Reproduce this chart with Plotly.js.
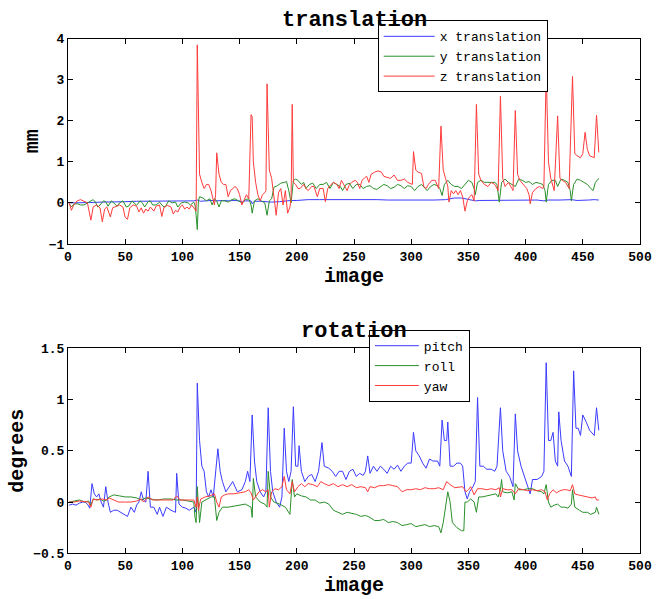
<!DOCTYPE html>
<html>
<head>
<meta charset="utf-8">
<script src="https://cdn.plot.ly/plotly-3.0.1.min.js"></script>
<style>
  html, body { margin: 0; padding: 0; background: #fff; }
  #chart { width: 666px; height: 599px; }
</style>
</head>
<body>
<div id="chart"></div>
<script>
// Head-motion realignment parameters per image (translation in mm, rotation in degrees)

const transXImg = [1,10,20,30,40,50,60,70,80,90,100,110,113,116,120,125,130,135,140,145,150,152,155,160,161,163,168,174,178,185,190,195,200,205,210,220,230,240,250,260,270,280,290,300,310,320,330,334,338,344,348,352,356,360,370,380,390,400,410,416,420,430,440,445,450,455,460,464];
const transX = [0.0,0.0,0.01,0.02,0.02,0.03,0.04,0.04,0.04,0.04,0.05,0.05,0.07,0.04,0.05,0.06,0.05,0.06,0.05,0.06,0.05,0.02,0.05,0.05,-0.02,0.04,0.04,0.03,0.02,0.03,0.05,0.06,0.06,0.07,0.08,0.08,0.08,0.08,0.09,0.08,0.08,0.07,0.07,0.07,0.06,0.07,0.08,0.1,0.12,0.12,0.1,0.07,0.05,0.06,0.06,0.07,0.07,0.06,0.07,0.05,0.07,0.07,0.08,0.06,0.06,0.07,0.08,0.07];

const transYImg = [1,3,5,8,11,14,17,20,22,24,26,28,31,33,35,38,40,43,45,48,51,53,56,58,60,63,65,67,70,72,74,77,80,83,85,88,91,94,96,99,102,105,107,110,111,112,113,114,115,118,121,124,126,128,130,132,134,137,140,143,146,149,152,155,158,160,161,163,166,169,172,174,176,178,180,183,186,189,191,193,195,197,199,201,204,206,208,211,214,217,220,223,226,229,232,235,238,240,243,246,249,252,255,258,261,264,267,270,273,276,279,282,285,288,291,294,297,300,303,306,309,312,314,317,320,323,325,327,329,332,335,338,341,344,347,350,353,355,356,358,361,364,367,370,373,375,377,379,382,385,388,391,394,397,400,403,406,409,412,415,417,418,420,423,426,428,431,434,437,439,440,442,445,448,451,454,457,459,461,464];
const transY = [-0.02,-0.1,-0.03,-0.02,-0.05,-0.05,0.0,0.05,0.08,0.02,-0.1,-0.05,0.05,0.03,-0.08,0.05,0.0,-0.08,0.0,0.05,-0.1,-0.08,0.05,0.0,-0.06,0.05,0.0,-0.1,0.03,0.05,-0.05,-0.05,0.02,-0.08,-0.1,0.05,0.0,0.02,-0.1,0.0,0.02,0.0,-0.05,0.02,-0.05,-0.3,-0.65,0.05,0.15,0.12,0.05,0.1,-0.05,0.1,0.05,-0.1,0.05,0.05,0.02,0.08,0.1,0.05,0.0,0.08,0.1,-0.05,-0.25,0.05,0.1,0.05,0.0,-0.3,0.05,0.1,0.38,0.42,0.48,0.5,0.52,0.3,0.0,0.55,0.58,0.55,0.45,0.5,0.35,0.45,0.48,0.35,0.45,0.45,0.5,0.35,0.5,0.45,0.4,0.3,0.45,0.48,0.35,0.45,0.45,0.35,0.4,0.42,0.35,0.33,0.4,0.45,0.42,0.35,0.38,0.45,0.42,0.35,0.42,0.4,0.3,0.4,0.45,0.35,0.3,0.4,0.45,0.42,0.35,0.18,0.45,0.55,0.45,0.4,0.4,0.35,0.45,0.55,0.5,0.35,0.2,0.5,0.55,0.5,0.5,0.5,0.5,0.45,0.02,0.5,0.58,0.5,0.45,0.4,0.58,0.55,0.5,0.52,0.45,0.5,0.48,0.45,0.3,0.02,0.45,0.55,0.55,0.4,0.58,0.55,0.5,0.3,0.05,0.45,0.58,0.55,0.5,0.45,0.35,0.3,0.5,0.6];

const transZImg = [1,3,5,8,11,14,17,20,22,25,28,30,32,34,37,39,42,45,48,50,52,54,57,60,62,64,66,68,70,72,75,77,80,82,84,87,90,92,94,96,98,100,102,104,106,108,110,112,113,114,115,117,119,121,123,125,127,128,129,130,132,134,136,138,140,142,144,146,148,150,152,154,156,158,160,161,162,164,166,168,170,172,173,174,175,176,178,180,182,184,186,188,190,192,194,195,196,197,199,201,203,206,208,210,213,215,218,220,223,225,227,230,232,235,237,239,241,244,246,248,251,253,255,257,259,261,263,265,268,271,274,276,279,282,285,288,291,294,297,299,301,302,304,306,309,311,313,315,318,321,324,326,328,330,332,333,335,337,339,341,343,345,347,349,351,353,355,357,359,361,364,367,370,373,375,376,378,380,382,385,388,389,391,393,395,398,401,403,404,406,409,412,415,416,418,420,422,424,425,428,430,432,435,438,441,443,445,448,450,452,454,456,459,460,462,464];
const transZ = [0.0,-0.18,-0.05,0.05,0.08,0.04,0.0,-0.42,-0.1,-0.05,-0.12,-0.46,-0.15,-0.1,-0.34,-0.12,-0.08,-0.05,-0.1,-0.35,-0.4,-0.12,-0.05,-0.08,-0.22,-0.12,-0.25,-0.15,-0.2,-0.1,-0.2,-0.08,-0.05,-0.33,-0.1,-0.06,-0.1,-0.27,-0.18,-0.22,-0.1,-0.05,-0.15,-0.1,-0.15,-0.05,-0.12,-0.2,3.85,1.8,0.7,0.5,0.35,0.45,0.45,0.3,0.05,-0.05,0.2,1.22,0.7,0.5,0.45,0.45,0.15,0.3,0.35,0.4,0.35,0.2,-0.05,0.1,0.2,0.1,2.15,2.1,1.0,0.5,0.2,0.05,0.2,0.25,0.3,2.9,1.5,0.8,0.6,0.2,-0.3,0.25,0.35,-0.05,0.3,-0.25,-0.1,0.1,2.4,0.5,0.45,0.35,0.35,0.45,0.35,0.3,0.4,0.4,0.15,0.35,0.35,0.03,0.35,0.45,0.5,0.45,0.35,0.55,0.45,0.3,0.45,0.5,0.55,0.5,0.35,0.55,0.6,0.65,0.5,0.7,0.75,0.78,0.75,0.65,0.62,0.6,0.68,0.55,0.55,0.58,0.5,0.48,0.45,1.25,0.8,0.75,0.72,0.4,0.35,0.45,0.55,0.55,0.35,1.87,0.8,0.6,0.4,0.02,0.3,0.22,0.3,0.2,0.3,0.15,-0.2,0.05,0.15,0.2,0.05,2.4,0.7,0.55,0.45,0.4,0.5,0.45,0.35,0.3,2.6,0.6,0.4,0.5,0.35,0.3,2.25,0.7,0.55,0.45,0.35,0.2,-0.02,0.25,0.35,0.4,0.35,0.4,3.2,1.0,0.6,0.4,0.3,2.12,0.6,0.55,0.5,0.35,3.08,1.2,1.15,1.1,1.2,1.72,1.3,1.15,1.1,1.1,2.14,1.23];

const pitchImg = [1,4,7,10,13,15,17,19,21,23,25,27,29,31,33,35,37,40,43,46,50,52,55,58,60,62,64,66,68,70,72,75,78,80,83,86,90,94,95,97,100,103,106,110,112,113,115,117,119,121,123,125,127,129,131,133,135,138,141,144,148,152,155,157,159,161,163,165,168,171,173,175,177,179,182,185,187,189,191,193,195,197,199,201,202,204,207,210,213,216,219,222,224,228,231,234,237,240,243,246,249,252,255,258,260,262,264,267,270,273,276,279,282,285,288,291,294,297,300,302,304,307,310,313,316,319,323,325,327,329,331,332,334,337,340,343,345,347,349,351,354,356,358,360,363,366,370,373,375,378,380,383,386,389,391,393,396,399,402,404,406,410,414,416,418,420,422,424,426,428,429,431,434,437,440,442,444,446,448,450,453,456,460,462,464];
const pitch = [-0.03,-0.02,-0.03,-0.01,0.0,0.0,-0.02,-0.06,0.18,0.08,0.05,0.08,0.0,-0.05,0.15,0.0,-0.1,-0.08,-0.08,-0.1,-0.12,-0.14,-0.05,-0.1,-0.03,0.0,0.1,0.02,0.0,0.3,-0.05,-0.05,-0.12,-0.05,-0.14,-0.05,-0.08,-0.1,0.28,-0.02,-0.05,-0.06,-0.08,-0.05,-0.1,1.16,0.6,0.35,0.3,0.1,0.05,0.12,0.05,0.3,0.52,0.3,0.2,0.1,0.15,0.2,0.1,0.12,0.2,0.3,0.2,0.85,0.4,0.2,0.1,0.05,0.1,0.92,0.3,0.1,0.0,-0.05,0.05,0.72,0.3,0.2,0.3,0.93,0.35,0.35,0.55,0.3,0.2,0.25,0.27,0.2,0.3,0.58,0.35,0.33,0.3,0.25,0.3,0.3,0.22,0.3,0.32,0.25,0.28,0.26,0.3,0.45,0.28,0.35,0.3,0.35,0.32,0.28,0.35,0.32,0.36,0.3,0.35,0.38,0.38,0.68,0.5,0.45,0.38,0.33,0.42,0.4,0.4,0.35,0.8,0.6,0.6,0.78,0.35,0.35,0.38,0.38,0.35,0.1,0.03,0.1,0.15,0.2,1.02,0.35,0.35,0.32,0.32,0.3,0.35,0.92,0.5,0.3,0.25,0.15,0.86,0.5,0.35,0.25,0.15,0.08,0.22,0.22,0.25,0.3,1.36,0.6,0.6,0.68,0.4,0.35,0.88,0.6,0.4,0.35,0.25,1.28,0.72,0.72,0.65,0.85,0.78,0.7,0.65,0.92,0.7];

const rollImg = [1,5,10,15,18,20,22,25,28,31,34,36,40,45,50,55,60,64,68,72,78,84,90,95,100,105,110,111,112,113,114,115,117,120,125,128,130,132,135,140,145,150,155,160,161,162,164,168,172,174,175,177,180,185,190,194,196,198,200,204,208,212,216,220,224,228,232,236,240,244,248,252,256,260,264,268,272,276,280,284,288,292,296,300,304,308,312,316,320,324,326,328,330,332,334,336,340,344,346,347,349,352,355,357,359,362,366,370,374,376,378,379,380,384,388,390,391,394,398,402,406,410,414,416,418,420,422,425,428,431,434,437,440,441,443,447,450,454,457,461,462,464];
const roll = [0.0,0.01,0.02,0.0,0.01,-0.03,0.03,0.02,0.03,0.01,0.02,0.05,0.07,0.06,0.05,0.05,0.04,0.02,0.04,0.03,0.02,0.03,0.03,0.02,0.02,0.01,0.0,-0.15,-0.2,0.15,-0.05,-0.2,0.0,0.02,0.05,0.05,-0.18,-0.1,-0.05,-0.05,-0.04,-0.03,-0.02,-0.05,-0.15,0.23,0.05,0.0,-0.02,-0.05,0.3,0.05,0.0,-0.02,-0.05,-0.12,0.22,0.05,0.08,0.06,0.05,0.02,0.02,-0.01,0.0,-0.02,-0.08,-0.1,-0.12,-0.1,-0.11,-0.12,-0.14,-0.13,-0.15,-0.18,-0.18,-0.17,-0.2,-0.19,-0.2,-0.23,-0.22,-0.21,-0.24,-0.23,-0.22,-0.24,-0.23,-0.24,-0.3,-0.2,-0.05,0.1,0.0,-0.2,-0.25,-0.28,-0.28,0.0,0.0,0.03,0.0,-0.1,0.05,0.05,0.06,0.07,0.08,0.05,0.12,0.22,0.1,0.09,0.1,0.02,0.18,0.12,0.12,0.13,0.13,0.11,0.1,0.08,0.17,0.0,-0.05,-0.03,-0.02,-0.05,-0.05,-0.06,-0.02,0.12,-0.05,-0.08,-0.1,-0.1,-0.12,-0.1,-0.05,-0.12];

const yawImg = [1,5,10,15,18,20,22,26,30,34,36,40,44,50,55,60,64,66,70,74,80,86,92,95,98,104,110,112,113,114,116,120,124,128,130,132,134,137,140,145,150,155,158,160,162,164,167,170,173,175,176,178,181,184,187,189,191,194,196,198,201,204,207,210,214,218,221,224,228,232,236,240,244,248,252,256,260,262,264,268,272,276,280,284,288,292,296,300,304,308,312,316,320,324,328,331,334,338,342,345,348,350,352,355,358,362,366,370,374,377,378,380,384,388,391,394,398,402,406,410,414,417,419,421,424,427,430,433,436,439,441,443,446,450,454,458,461,462,464];
const yaw = [0.0,0.0,0.01,0.0,0.0,-0.05,0.03,0.02,0.03,0.02,0.04,0.02,0.0,0.0,0.0,0.01,0.03,0.0,0.05,0.02,0.02,0.02,0.02,0.06,0.02,0.02,0.02,-0.05,0.05,-0.08,0.03,0.05,0.06,0.08,0.0,-0.05,0.05,0.07,0.08,0.08,0.09,0.1,0.12,0.09,0.02,0.05,0.1,0.12,0.1,0.12,-0.05,0.1,0.13,0.12,0.15,0.25,0.12,0.08,0.2,0.1,0.15,0.18,0.15,0.18,0.17,0.15,0.2,0.18,0.16,0.18,0.15,0.17,0.15,0.17,0.14,0.15,0.14,0.1,0.15,0.14,0.16,0.16,0.17,0.16,0.15,0.1,0.12,0.12,0.13,0.12,0.14,0.13,0.13,0.14,0.12,0.2,0.17,0.14,0.15,0.15,0.1,0.12,0.15,0.07,0.13,0.13,0.12,0.13,0.12,0.14,0.05,0.13,0.12,0.12,0.08,0.13,0.12,0.11,0.12,0.11,0.12,0.1,0.02,0.08,0.12,0.09,0.11,0.12,0.12,0.11,0.17,0.08,0.07,0.06,0.05,0.04,0.05,0.02,0.02];

const BLUE = '#3b3bff', GREEN = '#2a8f2a', RED = '#ff3b3b';
const MONO = 'Liberation Mono, Courier New, monospace';

function series(x, y, name, color, xa, ya, legend) {
  return { x: x, y: y, name: name, type: 'scatter', mode: 'lines',
           line: { color: color, width: 1 }, xaxis: xa, yaxis: ya, legend: legend };
}

const traces = [
  series(transXImg, transX, 'x translation', BLUE, 'x', 'y', 'legend'),
  series(transYImg, transY, 'y translation', GREEN, 'x', 'y', 'legend'),
  series(transZImg, transZ, 'z translation', RED, 'x', 'y', 'legend'),
  series(pitchImg, pitch, 'pitch', BLUE, 'x2', 'y2', 'legend2'),
  series(rollImg, roll, 'roll', GREEN, 'x2', 'y2', 'legend2'),
  series(yawImg, yaw, 'yaw', RED, 'x2', 'y2', 'legend2')
];

const tickFont = { family: MONO, size: 13, color: '#000', weight: 'bold' };
const titleFont = { family: MONO, size: 20, color: '#000', weight: 'bold' };

function axis(extra) {
  return Object.assign({
    showline: true, linecolor: '#000', linewidth: 1, mirror: 'ticks',
    ticks: 'inside', ticklen: 5, tickcolor: '#000', tickwidth: 1,
    showgrid: false, zeroline: false, tickfont: tickFont
  }, extra);
}

const legendFont = { family: MONO, size: 13, color: '#000' };

const layout = {
  width: 666, height: 599,
  margin: { l: 68, r: 26, t: 0, b: 0 },
  paper_bgcolor: '#fff', plot_bgcolor: '#fff',
  showlegend: true,
  xaxis: axis({ domain: [0, 1], anchor: 'y', range: [0, 500], dtick: 50, tick0: 0,
                title: { text: 'image', font: titleFont, standoff: 0 } }),
  yaxis: axis({ domain: [0.5927, 0.9354], anchor: 'x', range: [-1, 4], dtick: 1, tick0: 0,
                title: { text: 'mm', font: titleFont, standoff: 4 } }),
  xaxis2: axis({ domain: [0, 1], anchor: 'y2', range: [0, 500], dtick: 50, tick0: 0,
                 title: { text: 'image', font: titleFont, standoff: 0 } }),
  yaxis2: axis({ domain: [0.0763, 0.4185], anchor: 'x2', range: [-0.5, 1.5], dtick: 0.5, tick0: 0,
                 title: { text: 'degrees', font: titleFont, standoff: 4 } }),
  annotations: [
    { text: 'translation', xref: 'paper', yref: 'paper', x: 0.5, y: 0.9666,
      xanchor: 'center', yanchor: 'middle', showarrow: false,
      font: { family: MONO, size: 22, color: '#000', weight: 'bold' } },
    { text: 'rotation', xref: 'paper', yref: 'paper', x: 0.5, y: 0.4474,
      xanchor: 'center', yanchor: 'middle', showarrow: false,
      font: { family: MONO, size: 22, color: '#000', weight: 'bold' } }
  ],
  legend: { x: 0.5414, y: 0.966, xanchor: 'left', yanchor: 'top',
            bgcolor: '#fff', bordercolor: '#000', borderwidth: 1, itemwidth: 51,
            font: legendFont },
  legend2: { x: 0.526, y: 0.4495, xanchor: 'left', yanchor: 'top',
             bgcolor: '#fff', bordercolor: '#000', borderwidth: 1, itemwidth: 44,
             font: legendFont }
};

Plotly.newPlot('chart', traces, layout, { displayModeBar: false, staticPlot: true });
</script>
</body>
</html>
